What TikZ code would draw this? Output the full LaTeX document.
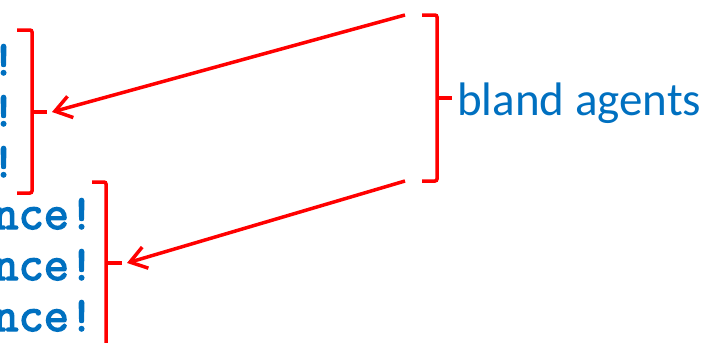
\documentclass[tikz,border=0pt]{standalone}
\usepackage{fontspec}
\setmainfont{Carlito}
\newfontfamily\courfont{Latin Modern Mono}[FakeBold=3]
\usetikzlibrary{arrows.meta}
\definecolor{txtblue}{RGB}{0,112,192}
\definecolor{brred}{RGB}{255,0,0}
\begin{document}
\begin{tikzpicture}[x=1pt,y=-1pt,
  code/.style={font=\courfont\fontsize{49}{49}\selectfont, text=txtblue, anchor=base east, inner sep=0pt},
  label/.style={font=\fontsize{47}{50}\selectfont, text=txtblue, anchor=base west, inner sep=0pt},
  bracket/.style={draw=brred, line width=3.5pt, rounded corners=2pt},
  arr/.style={draw=brred, line width=3.5pt, -{Straight Barb[length=16pt,width=22pt]}}]
\useasboundingbox (0,0) rectangle (713,343);
\clip (0,0) rectangle (713,343);
% code lines
\node[code] (t1) at (16.4,75) {!};
\node[code] (t2) at (16.4,126) {!};
\node[code] (t3) at (16.4,177) {!};
\node[code] (b1) at (94.4,229) {nce!};
\node[code] (b2) at (94.4,280) {nce!};
\node[code] (b3) at (94.4,331) {nce!};
% brackets
\draw[bracket] (17,30) -- (32,30) -- (32,193) -- (17,193);
\draw[bracket] (32,112) -- (47,112);
\draw[bracket] (92,182) -- (106,182) -- (106,360);
\draw[bracket] (106,263) -- (122,263);
\draw[bracket] (422,15) -- (437,15) -- (437,181) -- (422,181);
\draw[bracket] (437,98) -- (452,98);
% label
\node[label] (lbl) at (457,115) {bland agents};
% arrow coordinates
\coordinate (s1) at (405,15);
\coordinate (e1) at (52,112);
\coordinate (s2) at (405,181);
\coordinate (e2) at (127,263);
\draw[arr] (s1) -- (e1);
\draw[arr] (s2) -- (e2);
\end{tikzpicture}
\end{document}
